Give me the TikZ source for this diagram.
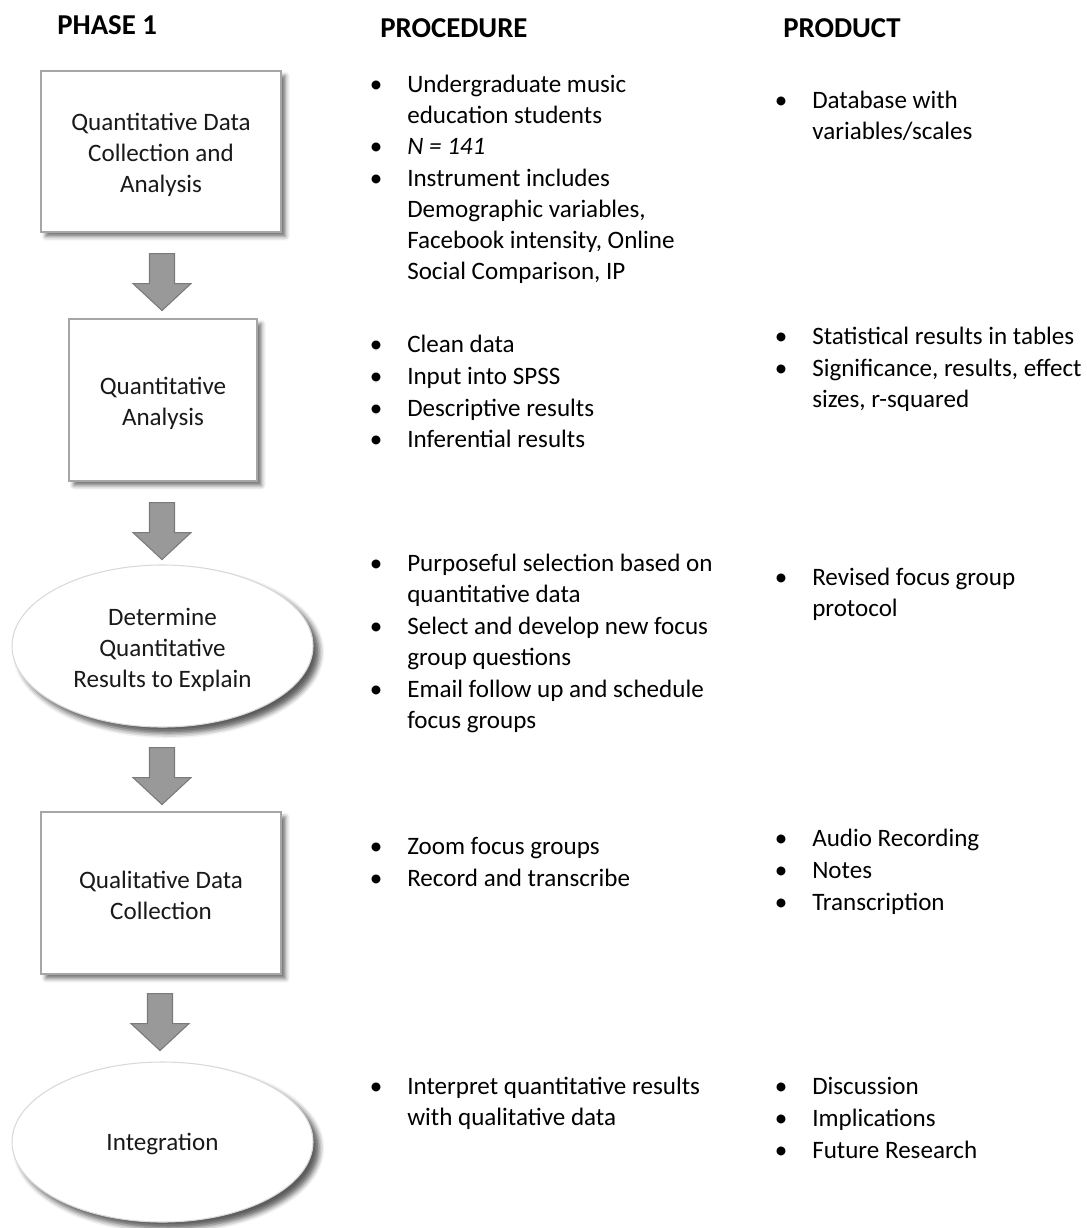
\documentclass[tikz,border=0pt]{standalone}
\usepackage{fontspec}
\setmainfont{Carlito}
\usetikzlibrary{shapes.geometric,shadows.blur,calc}
\newlength\pxu
\setlength\pxu{0.75pt}
\newcommand\txtfont{\fontsize{18.8pt}{23.25pt}\selectfont}
\newcommand\hdfont{\fontsize{21.6pt}{25pt}\selectfont\bfseries}
\newcommand\lowr{\rule{0pt}{18.5pt}}
\newcommand\blt[4]{%
  \node[bul] (#1b) at (#2-31,#3) {•};
  \node[itm] (#1) at (#2,#3-20) {\rule{0pt}{15pt}#4};}
\begin{document}
\begin{tikzpicture}[x=0.75pt,y=-0.75pt,
  shp/.style={draw=black!35, fill=white, line width=0.8pt, align=center,
    font=\txtfont, text=black!90, inner sep=0pt,
    blur shadow={shadow xshift=3.5pt, shadow yshift=-3.5pt, shadow blur radius=3pt, shadow opacity=55}},
  boxn/.style={shp, rectangle},
  elln/.style={shp, ellipse, draw=black!15,
    blur shadow={shadow xshift=4.5pt, shadow yshift=-4.5pt, shadow blur radius=4pt, shadow opacity=40}},
  itm/.style={anchor=north west, align=left, font=\txtfont, inner sep=0pt, text=black},
  bul/.style={anchor=base, font=\txtfont, inner sep=0pt, text=black},
  hd/.style={anchor=base west, font=\hdfont, inner sep=0pt, text=black},
  barrow/.pic={\filldraw[fill=black!40, draw=black!52, line width=0.8pt, line join=miter]
     (-12.5,0) -- (12.5,0) -- (12.5,30) -- (29,30) -- (0,57) -- (-29,30) -- (-12.5,30) -- cycle;}
]
\useasboundingbox (0,0) rectangle (1087,1228);

% headers
\node[hd] (h1) at (57,34) {PHASE 1};
\node[hd] (h2) at (380,37) {PROCEDURE};
\node[hd] (h3) at (783,37) {PRODUCT};

% flow shapes
\node[boxn, minimum width=240\pxu, minimum height=161\pxu] (b1) at (161,151.5)
  {\lowr Quantitative Data\\Collection and\\Analysis};
\node[boxn, minimum width=188\pxu, minimum height=162\pxu] (b2) at (163,400)
  {\lowr Quantitative\\Analysis};
\node[elln, minimum width=301\pxu, minimum height=162\pxu] (e1) at (162.5,646)
  {\lowr Determine\\Quantitative\\Results to Explain};
\node[boxn, minimum width=240\pxu, minimum height=162\pxu] (b3) at (161,893)
  {\rule{0pt}{16.5pt}Qualitative Data\\Collection};
\node[elln, minimum width=301\pxu, minimum height=160\pxu] (e2) at (162.5,1142)
  {\rule{0pt}{16.5pt}Integration};

% block arrows
\coordinate (a1) at ($(b1.south)+(1,21)$);
\coordinate (a2) at ($(b2.south)+(-1,21)$);
\coordinate (a3) at ($(e1.south)+(-0.5,20)$);
\coordinate (a4) at ($(b3.south)+(-1,19)$);
\pic at (a1) {barrow};
\pic at (a2) {barrow};
\pic at (a3) {barrow};
\pic at (a4) {barrow};

% procedure column
\blt{p1}{407}{92}{Undergraduate music\\education students}
\blt{p2}{407}{154}{\textit{N = 141}}
\blt{p3}{407}{186}{Instrument includes\\Demographic variables,\\Facebook intensity, Online\\Social Comparison, IP}
\blt{p4}{407}{352}{Clean data}
\blt{p5}{407}{384}{Input into SPSS}
\blt{p6}{407}{416}{Descriptive results}
\blt{p7}{407}{447}{Inferential results}
\blt{p8}{407}{571}{Purposeful selection based on\\quantitative data}
\blt{p9}{407}{634}{Select and develop new focus\\group questions}
\blt{p10}{407}{697}{Email follow up and schedule\\focus groups}
\blt{p11}{407}{854}{Zoom focus groups}
\blt{p12}{407}{886}{Record and transcribe}
\blt{p13}{407}{1094}{Interpret quantitative results\\with qualitative data}

% product column
\blt{r1}{812}{108}{Database with\\variables/scales}
\blt{r2}{812}{344}{Statistical results in tables}
\blt{r3}{812}{376}{Significance, results, effect\\sizes, r-squared}
\blt{r4}{812}{585}{Revised focus group\\protocol}
\blt{r5}{812}{846}{Audio Recording}
\blt{r6}{812}{878}{Notes}
\blt{r7}{812}{910}{Transcription}
\blt{r8}{812}{1094}{Discussion}
\blt{r9}{812}{1126}{Implications}
\blt{r10}{812}{1158}{Future Research}
\end{tikzpicture}
\end{document}
